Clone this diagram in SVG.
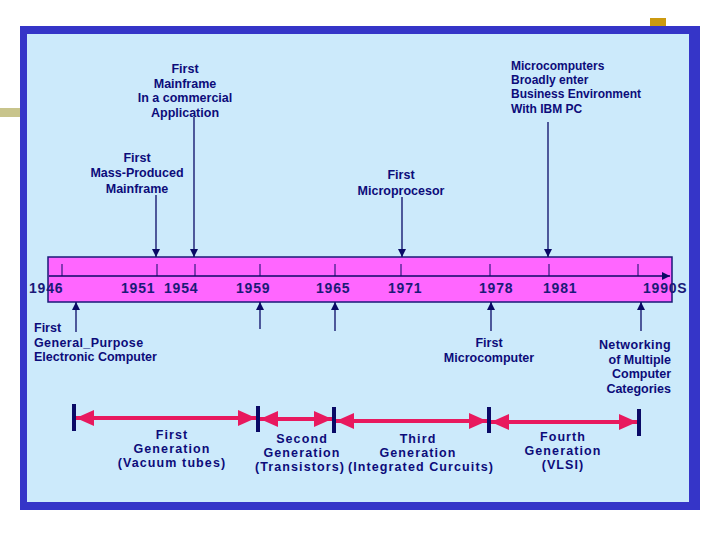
<svg xmlns="http://www.w3.org/2000/svg" width="720" height="540" viewBox="0 0 720 540">
<style>
.t{font-family:"Liberation Sans",Arial,sans-serif;font-weight:bold;font-size:12.5px;fill:#0c0c7a}
.c{text-anchor:middle}
.r{text-anchor:end}
.y{font-family:"Liberation Sans",Arial,sans-serif;font-weight:bold;font-size:14px;fill:#1a1a78;letter-spacing:0.8px}
.g{font-family:"Liberation Sans",Arial,sans-serif;font-weight:bold;font-size:12.5px;fill:#0c0c7a;letter-spacing:1.1px;text-anchor:middle}
.ln{stroke:#0a0a66;stroke-width:1.3;fill:none}
.tk{stroke:#0a0a66;stroke-width:1}
.pa{stroke:#E8195E;stroke-width:4;fill:none}
.bar{fill:#0a0a66}
</style>
<defs>
<marker id="nav" markerUnits="userSpaceOnUse" viewBox="0 0 8 8" refX="8" refY="4" markerWidth="8" markerHeight="8" orient="auto">
<path d="M0,0 L8,4 L0,8 z" fill="#0a0a66"/>
</marker>
<marker id="pink" markerUnits="userSpaceOnUse" viewBox="0 0 18 16" refX="18" refY="8" markerWidth="18" markerHeight="16" orient="auto-start-reverse">
<path d="M0,0 L18,8 L0,16 z" fill="#E8195E"/>
</marker>
</defs>
<rect x="0" y="0" width="720" height="540" fill="#ffffff"/>
<rect x="0" y="108" width="20" height="9" fill="#C8C48C"/>
<rect x="650" y="18" width="16" height="8" fill="#CC9A10"/>
<rect x="20" y="26" width="680" height="484" fill="#3535C8"/>
<rect x="27" y="34" width="662" height="468" fill="#CCEAFB"/>

<g id="timeline">
<rect x="48" y="257" width="624" height="45" fill="#FF66FF" stroke="#1a1a78" stroke-width="1.5"/>
<line x1="49" y1="276" x2="670" y2="276" class="ln" stroke-width="1" marker-end="url(#nav)"/>
<g class="tk">
<line x1="62" y1="264" x2="62" y2="276"/>
<line x1="157" y1="264" x2="157" y2="276"/>
<line x1="195" y1="264" x2="195" y2="276"/>
<line x1="260" y1="264" x2="260" y2="276"/>
<line x1="335" y1="264" x2="335" y2="276"/>
<line x1="401" y1="264" x2="401" y2="276"/>
<line x1="490" y1="264" x2="490" y2="276"/>
<line x1="549" y1="264" x2="549" y2="276"/>
<line x1="638" y1="264" x2="638" y2="276"/>
</g>
<text class="y" x="29" y="293">1946</text>
<text class="y" x="121" y="293">1951</text>
<text class="y" x="164" y="293">1954</text>
<text class="y" x="236" y="293">1959</text>
<text class="y" x="316" y="293">1965</text>
<text class="y" x="388" y="293">1971</text>
<text class="y" x="479" y="293">1978</text>
<text class="y" x="543" y="293">1981</text>
<text class="y" x="643" y="293">1990S</text>
</g>

<g id="connectors">
<line class="ln" x1="156" y1="195" x2="156" y2="257" marker-end="url(#nav)"/>
<line class="ln" x1="194" y1="117" x2="194" y2="257" marker-end="url(#nav)"/>
<line class="ln" x1="402" y1="197" x2="402" y2="257" marker-end="url(#nav)"/>
<line class="ln" x1="548" y1="122" x2="548" y2="257" marker-end="url(#nav)"/>
<line class="ln" x1="76" y1="332" x2="76" y2="302" marker-end="url(#nav)"/>
<line class="ln" x1="260" y1="329" x2="260" y2="302" marker-end="url(#nav)"/>
<line class="ln" x1="335" y1="331" x2="335" y2="302" marker-end="url(#nav)"/>
<line class="ln" x1="491" y1="331" x2="491" y2="302" marker-end="url(#nav)"/>
<line class="ln" x1="641" y1="331" x2="641" y2="302" marker-end="url(#nav)"/>
<line class="pa" x1="76" y1="418" x2="256" y2="418" marker-start="url(#pink)" marker-end="url(#pink)"/>
<line class="pa" x1="260" y1="419" x2="332" y2="419" marker-start="url(#pink)" marker-end="url(#pink)"/>
<line class="pa" x1="336" y1="421" x2="487" y2="421" marker-start="url(#pink)" marker-end="url(#pink)"/>
<line class="pa" x1="491" y1="422" x2="637" y2="422" marker-start="url(#pink)" marker-end="url(#pink)"/>
<rect class="bar" x="72" y="404" width="4" height="27"/>
<rect class="bar" x="256" y="406" width="4" height="26"/>
<rect class="bar" x="332" y="407" width="4" height="26"/>
<rect class="bar" x="487" y="407" width="4" height="26"/>
<rect class="bar" x="637" y="409" width="4" height="27"/>
</g>

<g id="first-mainframe-commercial">
<text class="t c" x="185" y="73">First</text>
<text class="t c" x="185" y="88">Mainframe</text>
<text class="t c" x="185" y="102">In a commercial</text>
<text class="t c" x="185" y="117">Application</text>
</g>
<g id="microcomputers-business">
<text class="t" style="font-size:12px" x="511" y="70">Microcomputers</text>
<text class="t" style="font-size:12px" x="511" y="84">Broadly enter</text>
<text class="t" style="font-size:12px" x="511" y="98">Business Environment</text>
<text class="t" style="font-size:12px" x="511" y="113">With IBM PC</text>
</g>
<g id="first-mass-produced">
<text class="t c" x="137" y="162">First</text>
<text class="t c" x="137" y="177">Mass-Produced</text>
<text class="t c" x="137" y="193">Mainframe</text>
</g>
<g id="first-microprocessor">
<text class="t c" x="401" y="179">First</text>
<text class="t c" x="401" y="195">Microprocesor</text>
</g>
<g id="first-general-purpose">
<text class="t" x="34" y="332">First</text>
<text class="t" x="34" y="347" style="letter-spacing:0.4px">General_Purpose</text>
<text class="t" x="34" y="361">Electronic Computer</text>
</g>
<g id="first-microcomputer">
<text class="t c" x="489" y="347">First</text>
<text class="t c" x="489" y="362">Microcomputer</text>
</g>
<g id="networking">
<text class="t r" x="671" y="349" style="letter-spacing:0.4px">Networking</text>
<text class="t r" x="671" y="364">of Multiple</text>
<text class="t r" x="671" y="378">Computer</text>
<text class="t r" x="671" y="393">Categories</text>
</g>
<g id="first-generation">
<text class="g" x="172" y="439">First</text>
<text class="g" x="172" y="453">Generation</text>
<text class="g" x="172" y="467">(Vacuum tubes)</text>
</g>
<g id="second-generation">
<text class="g" x="302" y="443">Second</text>
<text class="g" x="302" y="457">Generation</text>
<text class="g" x="300" y="471">(Transistors)</text>
</g>
<g id="third-generation">
<text class="g" x="418" y="443">Third</text>
<text class="g" x="418" y="457">Generation</text>
<text class="g" x="421" y="471">(Integrated Curcuits)</text>
</g>
<g id="fourth-generation">
<text class="g" x="563" y="441">Fourth</text>
<text class="g" x="563" y="455">Generation</text>
<text class="g" x="563" y="469">(VLSI)</text>
</g>
</svg>
